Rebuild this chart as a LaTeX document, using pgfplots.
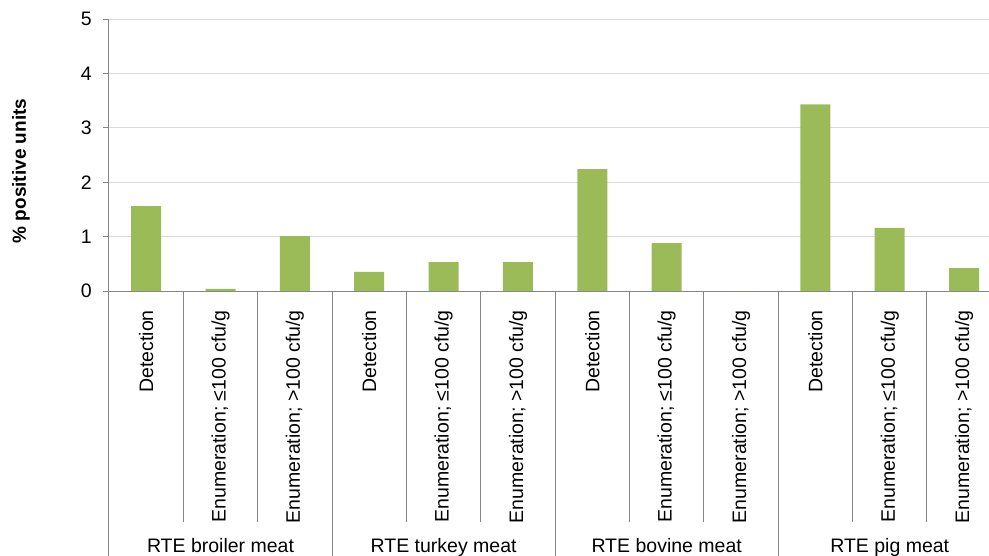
\documentclass[border=0pt]{standalone}
\usepackage{fontspec}
\setmainfont{Liberation Sans}
\usepackage{pgfplots}
\pgfplotsset{compat=1.18}
\definecolor{bargreen}{HTML}{9BBB59}
\definecolor{gridgray}{HTML}{D9D9D9}
\definecolor{axisgray}{HTML}{868686}

\begin{document}
\fontsize{19.5}{23}\selectfont
\begin{tikzpicture}
\begin{axis}[
  at={(109pt,264pt)}, anchor=south west,
  scale only axis, width=880pt, height=272pt,
  ybar, bar width=30pt,
  xmin=-0.5, xmax=11.335, ymin=0, ymax=5,
  axis x line=bottom, axis y line=left,
  axis line style={-, draw=axisgray, line width=1pt},
  ytick={0,1,2,3,4,5}, yticklabels={0,1,2,3,4,5},
  ymajorgrids, grid style={draw=gridgray, line width=1pt},
  tick align=outside, major tick length=6pt,
  y tick style={draw=axisgray, line width=1pt},
  xtick={0,...,11}, x tick style={draw=none},
  xticklabels={Detection, {Enumeration; ≤100 cfu/g}, {Enumeration; >100 cfu/g},
               Detection, {Enumeration; ≤100 cfu/g}, {Enumeration; >100 cfu/g},
               Detection, {Enumeration; ≤100 cfu/g}, {Enumeration; >100 cfu/g},
               Detection, {Enumeration; ≤100 cfu/g}, {Enumeration; >100 cfu/g}},
  xticklabel style={rotate=90, anchor=east, inner sep=0pt},
  xticklabel shift=13pt,
  yticklabel style={anchor=east, inner sep=0pt},
  yticklabel shift=11pt,
  ticklabel style={font=\fontsize{19.5}{23}\selectfont},
  ylabel={\% positive units},
  every axis y label/.style={at={(rel axis cs:0,0.441)}, xshift=-88pt, rotate=90, anchor=center, font=\bfseries\fontsize{19}{23}\selectfont},
  clip=false,
]
\addplot[fill=bargreen, draw=none] coordinates {
  (0,1.56) (1,0.04) (2,1.01)
  (3,0.35) (4,0.53) (5,0.53)
  (6,2.24) (7,0.88) (8,0)
  (9,3.43) (10,1.16) (11,0.42)
};
% category separators below the axis
\pgfplotsinvokeforeach{0.5,1.5,3.5,4.5,6.5,7.5,9.5,10.5}{
  \draw[axisgray, line width=1pt] (axis cs:#1,0) -- (axis cs:#1,-4.246);
}
\pgfplotsinvokeforeach{-0.5,2.5,5.5,8.5}{
  \draw[axisgray, line width=1pt] (axis cs:#1,0) -- (axis cs:#1,-5);
}
% group labels
\node[anchor=base] at (axis cs:1,-4.816) {RTE broiler meat};
\node[anchor=base] at (axis cs:4,-4.816) {RTE turkey meat};
\node[anchor=base] at (axis cs:7,-4.816) {RTE bovine meat};
\node[anchor=base] at (axis cs:10,-4.816) {RTE pig meat};
\end{axis}
\pgfresetboundingbox
\useasboundingbox (0,0) rectangle (989pt,555pt);
\end{tikzpicture}
\end{document}
